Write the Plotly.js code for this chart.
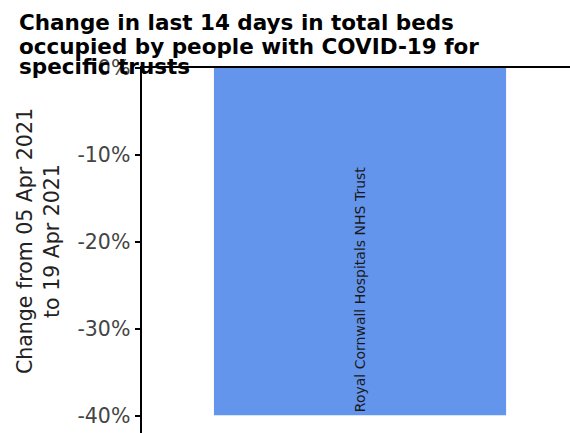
<!DOCTYPE html>
<html><head><meta charset="utf-8">
<script src="https://cdn.plot.ly/plotly-3.0.1.min.js"></script>
<style>body{margin:0;padding:0;background:#fff}</style>
</head><body>
<div id="chart" style="width:570px;height:433px"></div>
<script>
const trusts = ["Royal Cornwall Hospitals NHS Trust"];
const changePct = [-39.9];
const tickVals = [0, -10, -20, -30, -40];
const tickText = ["0%", "-10%", "-20%", "-30%", "-40%"];
const titleLines = ["Change in last 14 days in total beds", "occupied by people with COVID-19 for", "specific trusts"];
const yTitle = "Change from 05 Apr 2021<br>to 19 Apr 2021";

const trace = {
  type: 'bar',
  x: [0],
  y: changePct,
  width: [0.8],
  marker: {color: '#6495ED'},
  text: trusts,
  textposition: 'inside',
  insidetextanchor: 'end',
  textangle: -90,
  textfont: {family: 'DejaVu Sans', size: 14, color: '#1a1a1a'},
  hoverinfo: 'none'
};

const titleY = [1.126, 1.060, 1.003];
const annotations = titleLines.map((t, i) => ({
  text: '<b>' + t + '</b>',
  xref: 'paper', yref: 'paper',
  x: -0.292, y: titleY[i], xanchor: 'left', yanchor: 'middle',
  showarrow: false,
  font: {family: 'DejaVu Sans', size: 21.5, color: '#000'}
}));
annotations.push({
  text: yTitle,
  xref: 'paper', yref: 'paper',
  x: (38 - 142) / 428, y: (433 - 241) / 365,
  xanchor: 'center', yanchor: 'middle',
  textangle: -90, showarrow: false,
  font: {family: 'DejaVu Sans', size: 20.5, color: '#222'}
});

const layout = {
  width: 570, height: 433,
  margin: {l: 142, r: 0, t: 68, b: 0, pad: 0},
  paper_bgcolor: '#fff', plot_bgcolor: '#fff',
  showlegend: false,
  annotations: annotations,
  xaxis: {
    range: [-0.597, 0.575],
    showticklabels: false, ticks: '',
    showgrid: false, zeroline: false,
    showline: true, linecolor: '#000', linewidth: 2, side: 'top'
  },
  yaxis: {
    range: [-41.95, 0],
    tickmode: 'array', tickvals: tickVals, ticktext: tickText,
    ticks: 'outside', ticklen: 5, tickwidth: 1.5, tickcolor: '#000',
    tickfont: {family: 'DejaVu Sans', size: 20.5, color: '#444'},
    showgrid: false, zeroline: false,
    showline: true, linecolor: '#000', linewidth: 2.5
  }
};
Plotly.newPlot('chart', [trace], layout, {staticPlot: true, displayModeBar: false});
</script>
</body></html>
